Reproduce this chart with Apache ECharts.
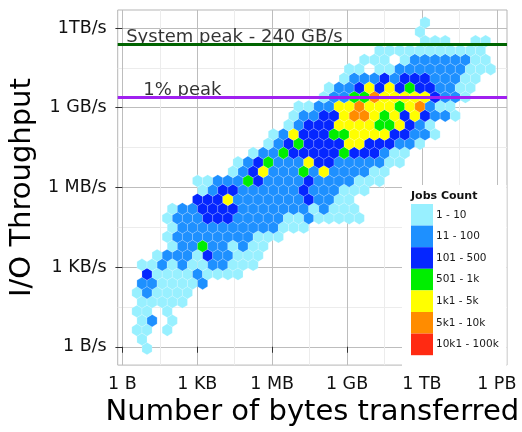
<!DOCTYPE html>
<html><head><meta charset="utf-8">
<script src="https://cdn.jsdelivr.net/npm/echarts@6/dist/echarts.min.js"></script>
<style>html,body{margin:0;padding:0;background:#fff}#c{width:522px;height:432px}</style>
</head><body><div id="c"></div>
<script>
// ---- tick labels (log10 scale) ----
const xTickValues = [0, 3, 6, 9, 12, 15];
const xTickLabels = ['1 B', '1 KB', '1 MB', '1 GB', '1 TB', '1 PB'];
const xMinorValues = [1.5, 4.5, 7.5, 10.5, 13.5];
const yTickValues = [0, 3, 6, 9, 12];
const yTickLabels = ['1 B/s', '1 KB/s', '1 MB/s', '1 GB/s', '1TB/s'];
const yMinorValues = [1.5, 4.5, 7.5, 10.5];

// ---- count classes ----
const countClasses = ['1 - 10', '11 - 100', '101 - 500', '501 - 1k', '1k1 - 5k', '5k1 - 10k', '10k1 - 100k'];
const classColors = ['#98F0FF', '#1E90FF', '#0526FF', '#00EE00', '#FFFF00', '#FF8C00', '#FF2A12'];

// ---- reference lines ----
const peakNames = ['System peak - 240 GB/s', '1% peak'];
const peakThroughput = [240e9, 2.4e9];
const peakLabelBytes = [4.49, 2.40];   // log10(bytes) where label is centred
const peakColors = ['#006400', '#A020F0'];

// ---- hexbin grid (log10 units) ----
const hexBinWidth = 0.405;
const hexGridX0 = 0.581;
const hexGridY0 = -0.07;
// each row (bottom to top): first column index, then class codes (1..7, '.' = empty)
const hexRowStart = [1,0,0,0,0,0,0,0,1,0,2,3,3,3,3,3,6,6,6,9,10,11,13,13,15,15,16,18,19,20,21,22,24,28,28,28];
const hexRowLevels = [
  "1", "1", "11.1", "12.1", "11.1", "11111", "121111", "2211112", "3111121111", "112121122111",
  "12221322111", "1224221211", "122222222111", "12222222222111", "12223332222211211111",
  "1223333222222212111", "3335222222232211", "12332222223222111", "1122243222232222111",
  "1235222425222211", "12342225332222211", "1224333334333211", "1234333355333221",
  "12533344555533221", "123335555445321", "12233566545353221", "1122556555456211",
  "122446555553221", "122353534332211", "12223233322211", "11.112222222111",
  "111.122222211", "11111111111", "111..11", "1", "1"
];

const rowH = hexBinWidth * Math.sqrt(3) / 2;
const hexData = [];
hexRowLevels.forEach((s, r) => {
  for (let i = 0; i < s.length; i++) {
    const ch = s[i];
    if (ch === '.') continue;
    const m = hexRowStart[r] + i;
    hexData.push([hexGridX0 + hexBinWidth * (m + (r % 2 ? 0.5 : 0)), hexGridY0 + rowH * r, +ch]);
  }
});

const FONT = 'DejaVu Sans';
const chart = echarts.init(document.getElementById('c'), null, {renderer: 'canvas'});
const xMin = -0.188, xMax = 15.41, yMin = -0.69, yMax = 12.68;
const halfH = hexBinWidth / Math.sqrt(3);

chart.setOption({
  animation: false,
  textStyle: {fontFamily: FONT},
  grid: {left: 117, right: 15, top: 10, bottom: 60, show: true, borderColor: '#b5b5b5', borderWidth: 1, backgroundColor: '#fff'},
  xAxis: [{
    type: 'value', min: xMin, max: xMax,
    name: 'Number of bytes transferred', nameLocation: 'middle', nameGap: 32,
    nameTextStyle: {fontFamily: FONT, fontSize: 29, color: '#000'},
    axisLine: {show: false},
    axisTick: {show: true, length: 6, customValues: xTickValues, lineStyle: {color: '#333'}},
    axisLabel: {customValues: xTickValues, margin: 10, fontFamily: FONT, fontSize: 17.5, color: '#111',
      formatter: v => xTickLabels[xTickValues.indexOf(v)]},
    splitLine: {show: true, lineStyle: {color: '#bdbdbd', width: 1}}
  }, {
    type: 'value', min: xMin, max: xMax, position: 'bottom',
    axisLine: {show: false}, axisLabel: {show: false},
    axisTick: {show: false, customValues: xMinorValues},
    splitLine: {show: true, lineStyle: {color: '#ececec', width: 1}}
  }],
  yAxis: [{
    type: 'value', min: yMin, max: yMax,
    name: 'I/O Throughput', nameLocation: 'middle', nameGap: 73,
    nameTextStyle: {fontFamily: FONT, fontSize: 29, color: '#000'},
    axisLine: {show: false},
    axisTick: {show: true, length: 7, customValues: yTickValues, lineStyle: {color: '#333'}},
    axisLabel: {customValues: yTickValues, margin: 11, fontFamily: FONT, fontSize: 17.5, color: '#111',
      formatter: v => yTickLabels[yTickValues.indexOf(v)]},
    splitLine: {show: true, lineStyle: {color: '#bdbdbd', width: 1}}
  }, {
    type: 'value', min: yMin, max: yMax, position: 'left',
    axisLine: {show: false}, axisLabel: {show: false},
    axisTick: {show: false, customValues: yMinorValues},
    splitLine: {show: true, lineStyle: {color: '#ececec', width: 1}}
  }],
  title: {text: 'Jobs Count', left: 411, top: 191, padding: 0, z: 7,
    textStyle: {fontFamily: FONT, fontSize: 11, fontWeight: 'bold', color: '#111'}},
  visualMap: {
    type: 'piecewise', dimension: 2, seriesIndex: 0, orient: 'vertical', inverse: true,
    pieces: countClasses.map((t, i) => ({value: i + 1, label: t, color: classColors[i]})),
    left: 411, top: 204, padding: 0, itemWidth: 22, itemHeight: 21.6, itemGap: 0, itemSymbol: 'rect',
    align: 'left', textGap: 3, selectedMode: false, hoverLink: false, z: 6,
    textStyle: {fontFamily: FONT, fontSize: 10.5, color: '#1a1a1a'}
  },
  graphic: [{type: 'rect', shape: {x: 402, y: 185, width: 104.5, height: 186.5}, style: {fill: '#fff'}, z: 5, silent: true}],
  series: [{
    type: 'custom', z: 2, data: hexData, silent: true,
    renderItem: (params, api) => {
      const x = api.value(0), y = api.value(1), hw = hexBinWidth / 2;
      const pts = [[x, y + halfH], [x + hw, y + halfH / 2], [x + hw, y - halfH / 2], [x, y - halfH], [x - hw, y - halfH / 2], [x - hw, y + halfH / 2]].map(p => api.coord(p));
      return {type: 'polygon', shape: {points: pts}, style: {fill: api.visual('color'), stroke: 'rgba(255,255,255,0.35)', lineWidth: 0.5}};
    }
  }, {
    type: 'scatter', z: 3, symbolSize: 0, silent: true,
    data: peakNames.map((n, i) => ({value: [peakLabelBytes[i], Math.log10(peakThroughput[i])], name: n})),
    label: {show: true, position: 'top', distance: 0, offset: [0, 2], formatter: p => p.name,
      fontFamily: FONT, fontSize: 18, color: '#000'},
    markLine: {silent: true, symbol: ['none', 'none'], label: {show: false},
      data: peakThroughput.map((v, i) => ({yAxis: Math.log10(v), lineStyle: {color: peakColors[i], width: 2.8, type: 'solid'}}))}
  }]
});
</script></body></html>
